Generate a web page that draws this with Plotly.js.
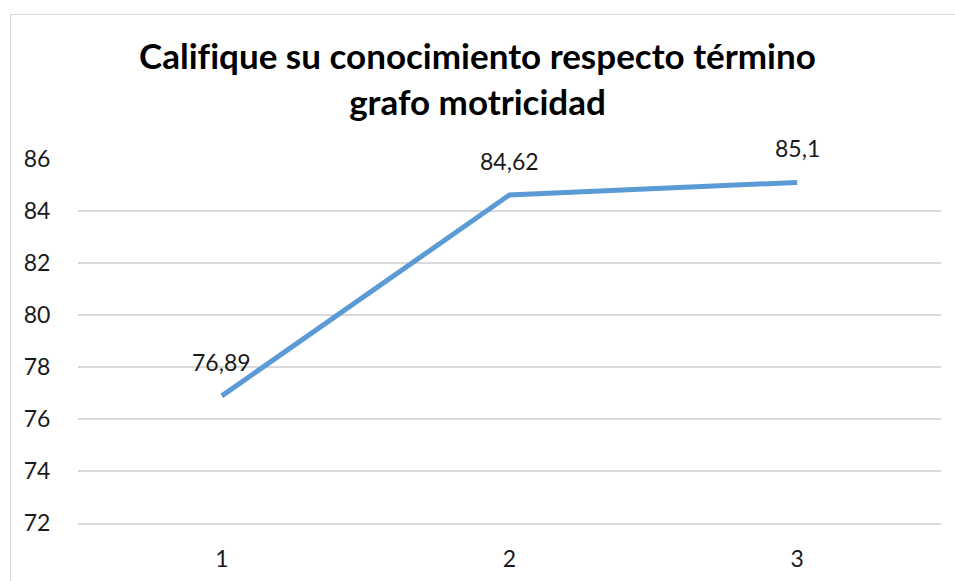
<!DOCTYPE html>
<html>
<head>
<meta charset="utf-8">
<script src="https://cdn.plot.ly/plotly-3.0.1.min.js"></script>
<style>
  html, body { margin: 0; padding: 0; background: #ffffff; overflow: hidden; }
  #frame { position: absolute; left: 10px; top: 14px; width: 1000px; height: 700px; border: 1.5px solid #d9d9d9; box-sizing: border-box; }
  #chart { position: absolute; left: 0; top: 0; width: 955px; height: 581px; }
</style>
</head>
<body>
<div id="frame"></div>
<div id="chart"></div>
<script>
const categories = ["1", "2", "3"];
const values = [76.89, 84.62, 85.1];
const yTicks = [72, 74, 76, 78, 80, 82, 84, 86];
const titleText = "Calif\u200Cique su conocimiento respecto término<br>grafo motricidad";

const font = "Lato, 'Open Sans', 'Liberation Sans', sans-serif";

const trace = {
  x: categories,
  y: values,
  type: "scatter",
  mode: "lines",
  line: { color: "#5b9bd5", width: 5 },
  hoverinfo: "skip"
};

const annotations = values.map((v, i) => ({
  x: i,
  y: v,
  xref: "x",
  yref: "y",
  text: String(v).replace(".", ","),
  showarrow: false,
  yshift: 34,
  font: { family: font, size: 23, color: "#1a1a1a" }
}));

const layout = {
  width: 955,
  height: 581,
  margin: { l: 78, r: 14, t: 159, b: 58 },
  paper_bgcolor: "rgba(0,0,0,0)",
  plot_bgcolor: "rgba(0,0,0,0)",
  showlegend: false,
  title: {
    text: titleText,
    font: { family: font, size: 35, color: "#000000", weight: "bold" },
    x: 0.5,
    xanchor: "center",
    y: 0.881,
    yanchor: "middle"
  },
  xaxis: {
    type: "category",
    range: [-0.5, 2.5],
    showgrid: false,
    zeroline: false,
    showline: true,
    linecolor: "#d9d9d9",
    linewidth: 1.5,
    ticks: "outside",
    ticklen: 15,
    tickcolor: "rgba(0,0,0,0)",
    tickfont: { family: font, size: 23, color: "#1a1a1a" }
  },
  yaxis: {
    range: [72, 86],
    tickvals: yTicks,
    showgrid: true,
    gridcolor: "#d9d9d9",
    gridwidth: 1.5,
    zeroline: false,
    showline: false,
    ticks: "outside",
    ticklen: 22,
    tickcolor: "rgba(0,0,0,0)",
    tickfont: { family: font, size: 23, color: "#1a1a1a" }
  },
  annotations: annotations
};

Plotly.newPlot("chart", [trace], layout, { displayModeBar: false, staticPlot: true });
</script>
</body>
</html>
